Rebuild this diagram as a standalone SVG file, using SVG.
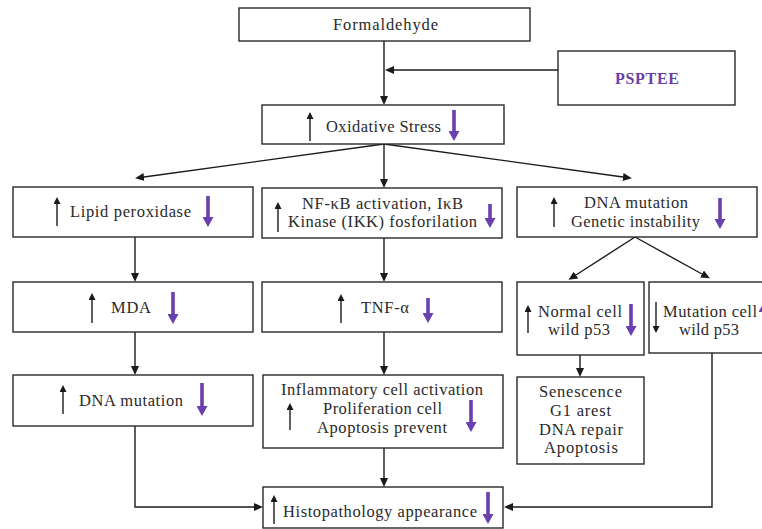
<svg xmlns="http://www.w3.org/2000/svg" width="762" height="529" viewBox="0 0 762 529">
<style>
.box{fill:#fff;stroke:#2a2a2a;stroke-width:1.4}
.t{font-family:"Liberation Serif","Times New Roman",serif;font-size:16.5px;fill:#2a2a2a;text-anchor:middle}
.p{font-family:"Liberation Serif","Times New Roman",serif;font-size:16px;font-weight:bold;fill:#6a40a8;text-anchor:middle}
.c{fill:none;stroke:#1a1a1a;stroke-width:1.4}
.up{stroke:#1a1a1a;stroke-width:1.4;marker-end:url(#bi)}
.dn{stroke:#6a3fae;stroke-width:3.6;marker-end:url(#pd)}
</style>
<defs>
<marker id="ah" markerUnits="userSpaceOnUse" markerWidth="9" markerHeight="8" refX="0" refY="4" orient="auto"><path d="M0,0 L9,4 L0,8 z" fill="#1a1a1a"/></marker>
<marker id="bi" markerUnits="userSpaceOnUse" markerWidth="7" markerHeight="7" refX="0" refY="3.5" orient="auto"><path d="M0,0 L7,3.5 L0,7 z" fill="#1a1a1a"/></marker>
<marker id="pd" markerUnits="userSpaceOnUse" markerWidth="10" markerHeight="11" refX="0" refY="5.5" orient="auto"><path d="M0,0 L10,5.5 L0,11 z" fill="#6a3fae"/></marker>
</defs>

<g id="connectors">
<line class="c" x1="384" y1="41" x2="384" y2="96" marker-end="url(#ah)"/>
<line class="c" x1="558" y1="70" x2="394" y2="70" marker-end="url(#ah)"/>
<line class="c" x1="384" y1="144" x2="144" y2="177" marker-end="url(#ah)"/>
<line class="c" x1="384" y1="144" x2="384" y2="179" marker-end="url(#ah)"/>
<line class="c" x1="384" y1="144" x2="623" y2="177" marker-end="url(#ah)"/>
<line class="c" x1="135" y1="237" x2="135" y2="273" marker-end="url(#ah)"/>
<line class="c" x1="135" y1="332" x2="135" y2="366" marker-end="url(#ah)"/>
<line class="c" x1="384" y1="238" x2="384" y2="273" marker-end="url(#ah)"/>
<line class="c" x1="384" y1="332" x2="384" y2="366" marker-end="url(#ah)"/>
<line class="c" x1="384" y1="448" x2="384" y2="478" marker-end="url(#ah)"/>
<line class="c" x1="635" y1="237" x2="576" y2="275" marker-end="url(#ah)"/>
<line class="c" x1="635" y1="237" x2="702" y2="274" marker-end="url(#ah)"/>
<line class="c" x1="580" y1="355" x2="580" y2="368" marker-end="url(#ah)"/>
<polyline class="c" points="135,426 135,507 254,507" marker-end="url(#ah)"/>
<polyline class="c" points="712,353 712,507 513,507" marker-end="url(#ah)"/>
</g>

<g id="formaldehyde">
<rect class="box" x="239" y="8" width="291" height="33"/>
<text class="t" x="385.5" y="30" textLength="105" lengthAdjust="spacing">Formaldehyde</text>
</g>

<g id="psptee">
<rect class="box" x="558" y="51" width="177" height="54"/>
<text class="p" x="647" y="84" textLength="64" lengthAdjust="spacing">PSPTEE</text>
</g>

<g id="oxidative">
<rect class="box" x="262" y="105" width="242" height="39"/>
<line class="up" x1="310" y1="141" x2="310" y2="119"/>
<text class="t" x="383.5" y="132" textLength="115" lengthAdjust="spacing">Oxidative Stress</text>
<line class="dn" x1="454" y1="110" x2="454" y2="131"/>
</g>

<g id="lipid">
<rect class="box" x="13" y="187" width="240" height="50"/>
<line class="up" x1="57" y1="226" x2="57" y2="204"/>
<text class="t" x="130.5" y="217" textLength="121" lengthAdjust="spacing">Lipid peroxidase</text>
<line class="dn" x1="208" y1="196" x2="208" y2="217"/>
</g>

<g id="mda">
<rect class="box" x="13" y="282" width="240" height="50"/>
<line class="up" x1="92" y1="323" x2="92" y2="300"/>
<text class="t" x="131" y="313" textLength="40" lengthAdjust="spacing">MDA</text>
<line class="dn" x1="173" y1="292" x2="173" y2="314"/>
</g>

<g id="dna-left">
<rect class="box" x="13" y="375" width="240" height="51"/>
<line class="up" x1="63" y1="414" x2="63" y2="392"/>
<text class="t" x="131" y="406" textLength="104" lengthAdjust="spacing">DNA mutation</text>
<line class="dn" x1="202" y1="383" x2="202" y2="406"/>
</g>

<g id="nfkb">
<rect class="box" x="262" y="188" width="240" height="50"/>
<line class="up" x1="278" y1="232" x2="278" y2="209"/>
<text class="t" x="382.5" y="209" textLength="161" lengthAdjust="spacing">NF-κB activation, IκB</text>
<text class="t" x="382.5" y="227" textLength="189" lengthAdjust="spacing">Kinase (IKK) fosforilation</text>
<line class="dn" x1="490" y1="204" x2="490" y2="218"/>
</g>

<g id="tnf">
<rect class="box" x="262" y="282" width="240" height="50"/>
<line class="up" x1="341" y1="323" x2="341" y2="301"/>
<text class="t" x="385" y="313" textLength="48" lengthAdjust="spacing">TNF-α</text>
<line class="dn" x1="428" y1="298" x2="428" y2="313"/>
</g>

<g id="inflammatory">
<rect class="box" x="263" y="375" width="240" height="73"/>
<line class="up" x1="290" y1="430" x2="290" y2="410"/>
<text class="t" x="382" y="395" textLength="202" lengthAdjust="spacing">Inflammatory cell activation</text>
<text class="t" x="382.5" y="414" textLength="119" lengthAdjust="spacing">Proliferation cell</text>
<text class="t" x="382" y="433" textLength="130" lengthAdjust="spacing">Apoptosis prevent</text>
<line class="dn" x1="471" y1="400" x2="471" y2="422"/>
</g>

<g id="histopathology">
<rect class="box" x="263" y="487" width="240" height="41"/>
<line class="up" x1="274" y1="524" x2="274" y2="502"/>
<text class="t" x="380" y="517" textLength="194" lengthAdjust="spacing">Histopathology appearance</text>
<line class="dn" x1="488" y1="492" x2="488" y2="514"/>
</g>

<g id="dna-right">
<rect class="box" x="517" y="187" width="240" height="50"/>
<line class="up" x1="554" y1="227" x2="554" y2="204"/>
<text class="t" x="636" y="208" textLength="104" lengthAdjust="spacing">DNA mutation</text>
<text class="t" x="635.5" y="227" textLength="129" lengthAdjust="spacing">Genetic instability</text>
<line class="dn" x1="720" y1="198" x2="720" y2="219"/>
</g>

<g id="normal-cell">
<rect class="box" x="517" y="282" width="127" height="73"/>
<line class="up" x1="528" y1="333" x2="528" y2="312"/>
<text class="t" x="580" y="317" textLength="84" lengthAdjust="spacing">Normal cell</text>
<text class="t" x="579" y="335" textLength="62" lengthAdjust="spacing">wild p53</text>
<line class="dn" x1="631" y1="304" x2="631" y2="326"/>
</g>

<g id="mutation-cell">
<rect class="box" x="649" y="282" width="130" height="71"/>
<line class="up" x1="656" y1="302" x2="656" y2="326"/>
<text class="t" x="710" y="317" textLength="94" lengthAdjust="spacing">Mutation cell</text>
<text class="t" x="709" y="335" textLength="60" lengthAdjust="spacing">wild p53</text>
<line class="dn" x1="764" y1="330" x2="764" y2="312"/>
</g>

<g id="senescence">
<rect class="box" x="517" y="377" width="127" height="87"/>
<text class="t" x="580.5" y="397" textLength="83" lengthAdjust="spacing">Senescence</text>
<text class="t" x="580.5" y="416" textLength="61" lengthAdjust="spacing">G1 arest</text>
<text class="t" x="581" y="435" textLength="84" lengthAdjust="spacing">DNA repair</text>
<text class="t" x="581" y="453" textLength="74" lengthAdjust="spacing">Apoptosis</text>
</g>
</svg>
